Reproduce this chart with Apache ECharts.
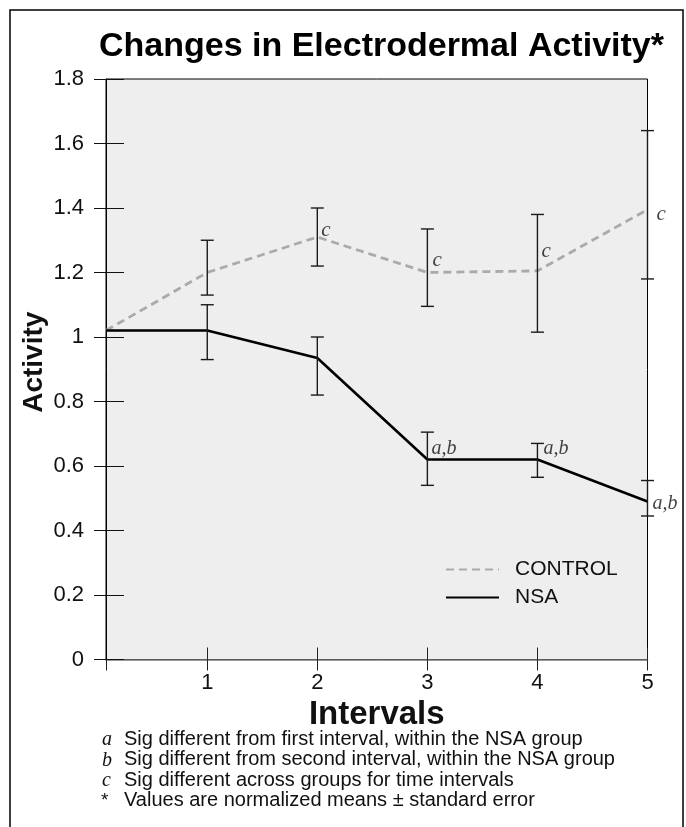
<!DOCTYPE html>
<html>
<head>
<meta charset="utf-8">
<script src="https://cdn.jsdelivr.net/npm/echarts@6/dist/echarts.min.js"></script>
<style>
html,body{margin:0;padding:0;background:#fff;}
#chart{width:686px;height:827px;}
</style>
</head>
<body>
<div id="chart"></div>
<script>
// ---- data ----
const intervals = [0.08, 1, 2, 3, 4, 5];           // first point sits on the y axis
const xTickValues = [1, 2, 3, 4, 5];
const yTickValues = [0, 0.2, 0.4, 0.6, 0.8, 1, 1.2, 1.4, 1.6, 1.8];
const controlMean = [1.02, 1.20, 1.31, 1.20, 1.205, 1.395];
const controlLow  = [null, 1.13, 1.22, 1.095, 1.015, 1.18];
const controlHigh = [null, 1.30, 1.40, 1.335, 1.38, 1.64];
const nsaMean = [1.02, 1.02, 0.935, 0.62, 0.62, 0.49];
const nsaLow  = [null, 0.93, 0.82, 0.54, 0.565, 0.445];
const nsaHigh = [null, 1.10, 1.00, 0.705, 0.67, 0.555];
const controlNote = ['', '', 'c', 'c', 'c', 'c'];
const nsaNote = ['', '', '', 'a,b', 'a,b', 'a,b'];
const footnoteKeys = ['a', 'b', 'c', '*'];
const footnoteTexts = [
  'Sig different from first interval, within the NSA group',
  'Sig different from second interval, within the NSA group',
  'Sig different across groups for time intervals',
  'Values are normalized means \u00B1 standard error'
];
const titleText = 'Changes in Electrodermal Activity*';

// ---- styling helpers (not data) ----
const controlNoteShift = [[0,0],[0,0],[0,-7],[1,-12],[0,-19],[5,5]];
const nsaNoteShift = [[0,0],[0,0],[0,0],[0,-11],[2,-11],[1,2]];
const SANS = '"Liberation Sans", Arial, sans-serif';
const SERIF = '"Liberation Serif", "Times New Roman", serif';

function errData(low, high) {
  const out = [];
  intervals.forEach((x, i) => { if (low[i] != null) out.push([x, low[i], high[i]]); });
  return out;
}
function noteData(mean, note, shift) {
  const out = [];
  intervals.forEach((x, i) => {
    if (note[i]) out.push({ value: [x, mean[i]], note: note[i], label: { offset: shift[i] } });
  });
  return out;
}
function errRender(params, api) {
  const x = api.value(0);
  const lo = api.coord([x, api.value(1)]);
  const hi = api.coord([x, api.value(2)]);
  const w = 6.5;
  const st = { stroke: '#1a1a1a', lineWidth: 1.4 };
  return {
    type: 'group',
    children: [
      { type: 'line', shape: { x1: lo[0], y1: lo[1], x2: hi[0], y2: hi[1] }, style: st },
      { type: 'line', shape: { x1: lo[0] - w, y1: lo[1], x2: lo[0] + w, y2: lo[1] }, style: st },
      { type: 'line', shape: { x1: hi[0] - w, y1: hi[1], x2: hi[0] + w, y2: hi[1] }, style: st }
    ]
  };
}
function fmtY(v) { return String(Math.round(v * 10) / 10); }

const footGraphics = [];
footnoteKeys.forEach((k, i) => {
  const y = 740 + i * 20.5;
  footGraphics.push({
    type: 'text', left: k === '*' ? 101 : 102, top: y - 10,
    style: { text: k, font: (k === '*' ? 'normal 19px ' + SANS : 'italic 20px ' + SERIF), fill: '#111' }
  });
  footGraphics.push({
    type: 'text', left: 124, top: y - 11,
    style: { text: footnoteTexts[i], font: 'normal 20px ' + SANS, fill: '#111' }
  });
});

const chart = echarts.init(document.getElementById('chart'));
chart.setOption({
  backgroundColor: '#ffffff',
  animation: false,
  title: {
    text: titleText, left: 94, top: 25,
    textStyle: { fontFamily: SANS, fontSize: 34, fontWeight: 'bold', color: '#000' }
  },
  graphic: [
    { type: 'rect', z: -10, shape: { x: 10, y: 10, width: 673, height: 840 },
      style: { fill: 'none', stroke: '#000', lineWidth: 1.5 } }
  ].concat(footGraphics),
  legend: {
    data: ['CONTROL', 'NSA'], orient: 'vertical', left: 445, top: 559,
    itemWidth: 53, itemHeight: 14, itemGap: 7, padding: 0,
    itemStyle: { opacity: 0 },
    textStyle: { fontFamily: SANS, fontSize: 21, color: '#111', padding: [0, 0, 0, 11] }
  },
  grid: {
    left: 106, right: 38.5, top: 79, bottom: 167.5,
    show: true, backgroundColor: '#eeeeee', borderColor: '#000', borderWidth: 1
  },
  xAxis: [
    {
      type: 'value', min: intervals[0], max: 5, position: 'bottom',
      axisLine: { show: true, onZero: false, lineStyle: { color: '#7a7a7a', width: 1.5 } },
      axisTick: { show: true, inside: true, length: 12, customValues: xTickValues, lineStyle: { color: '#222', width: 1 } },
      axisLabel: { show: true, customValues: xTickValues, fontFamily: SANS, fontSize: 22, color: '#111', margin: 12 },
      splitLine: { show: false },
      name: 'Intervals', nameLocation: 'middle', nameGap: 36,
      nameTextStyle: { fontFamily: SANS, fontSize: 33, fontWeight: 'bold', color: '#111' }
    },
    {
      type: 'value', min: intervals[0], max: 5, position: 'bottom',
      axisLine: { show: false },
      axisTick: { show: true, inside: false, length: 11, customValues: [intervals[0]].concat(xTickValues), lineStyle: { color: '#222', width: 1 } },
      axisLabel: { show: false },
      splitLine: { show: false }
    }
  ],
  yAxis: [
    {
      type: 'value', min: 0, max: 1.8, interval: 0.2, position: 'left',
      axisLine: { show: true, lineStyle: { color: '#000', width: 1 } },
      axisTick: { show: true, inside: true, length: 18, lineStyle: { color: '#111', width: 1 } },
      axisLabel: { show: false },
      splitLine: { show: false }
    },
    {
      type: 'value', min: 0, max: 1.8, interval: 0.2, position: 'left',
      axisLine: { show: false },
      axisTick: { show: true, inside: false, length: 12, lineStyle: { color: '#111', width: 1 } },
      axisLabel: { show: true, fontFamily: SANS, fontSize: 22, color: '#111', margin: 22, formatter: fmtY },
      splitLine: { show: false },
      name: 'Activity', nameLocation: 'middle', nameGap: 58, nameRotate: 90, nameMoveOverlap: false,
      nameTextStyle: { fontFamily: SANS, fontSize: 28, fontWeight: 'bold', color: '#111', padding: [0, 0, 0, 14] }
    }
  ],
  series: [
    {
      name: 'CONTROL', type: 'line', xAxisIndex: 0, yAxisIndex: 0,
      data: intervals.map((x, i) => [x, controlMean[i]]),
      symbol: 'none', z: 3,
      lineStyle: { color: '#aaaaaa', width: 2.8, type: [8, 5] },
      itemStyle: { color: '#aaaaaa' }
    },
    {
      name: 'NSA', type: 'line', xAxisIndex: 0, yAxisIndex: 0,
      data: intervals.map((x, i) => [x, nsaMean[i]]),
      symbol: 'none', z: 3,
      lineStyle: { color: '#000', width: 2.6 },
      itemStyle: { color: '#000' }
    },
    { type: 'custom', xAxisIndex: 0, yAxisIndex: 0, renderItem: errRender, data: errData(controlLow, controlHigh), z: 4, clip: false },
    { type: 'custom', xAxisIndex: 0, yAxisIndex: 0, renderItem: errRender, data: errData(nsaLow, nsaHigh), z: 4, clip: false },
    {
      type: 'scatter', xAxisIndex: 0, yAxisIndex: 0, symbolSize: 0, z: 5,
      data: noteData(controlMean, controlNote, controlNoteShift),
      label: { show: true, position: 'right', distance: 4, formatter: p => p.data.note,
        fontFamily: SERIF, fontStyle: 'italic', fontSize: 21, color: '#111' }
    },
    {
      type: 'scatter', xAxisIndex: 0, yAxisIndex: 0, symbolSize: 0, z: 5,
      data: noteData(nsaMean, nsaNote, nsaNoteShift),
      label: { show: true, position: 'right', distance: 4, formatter: p => p.data.note,
        fontFamily: SERIF, fontStyle: 'italic', fontSize: 20, color: '#111' }
    }
  ]
});
</script>
</body>
</html>
